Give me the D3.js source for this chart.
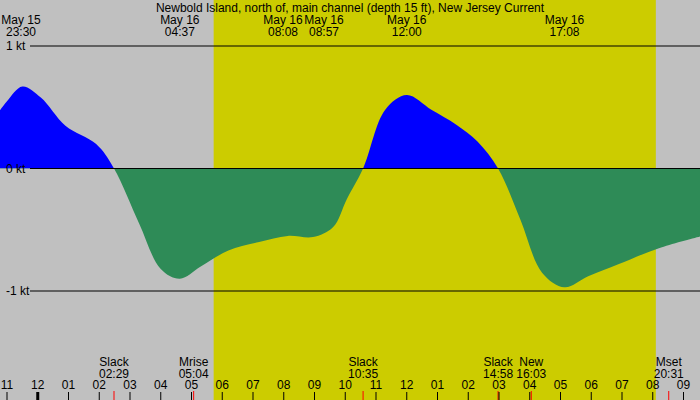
<!DOCTYPE html>
<html><head><meta charset="utf-8">
<script src="https://cdn.jsdelivr.net/npm/d3@7"></script>
<style>body{margin:0;background:#c0c0c0}text{font-family:"Liberation Sans",Arial,sans-serif;font-size:12px}</style>
</head><body><svg id="c" width="700" height="400"></svg>
<script>
// hours since May 15 23:00
var flowHours = [-0.3, 0, 0.5, 1.1, 1.9, 2.9, 3.48, 4.3, 5.0, 5.62, 6.3, 7.2, 8.2, 9.13, 9.95, 10.6, 11.05, 11.58, 12.3, 13.0, 13.8, 14.6, 15.3, 15.97, 16.7, 17.4, 18.13, 18.9, 19.9, 21.2, 22.6];
var flowKnots = [0.45, 0.55, 0.67, 0.58, 0.35, 0.2, 0, -0.45, -0.82, -0.9, -0.8, -0.67, -0.6, -0.55, -0.56, -0.48, -0.25, 0, 0.48, 0.6, 0.48, 0.36, 0.22, 0, -0.42, -0.85, -0.97, -0.88, -0.78, -0.65, -0.55];
var daylight = [6.72, 21.1];
var hourLabels = ["11","12","01","02","03","04","05","06","07","08","09","10","11","12","01","02","03","04","05","06","07","08","09"];
var topEvents = [
  {t: 0.5, d: "May 15", s: "23:30", x: 21},
  {t: 5.62, d: "May 16", s: "04:37"},
  {t: 9.13, d: "May 16", s: "08:08", x: 283},
  {t: 9.95, d: "May 16", s: "08:57", x: 324},
  {t: 13.0, d: "May 16", s: "12:00"},
  {t: 18.13, d: "May 16", s: "17:08"}
];
var bottomEvents = [
  {t: 3.48, a: "Slack", b: "02:29"},
  {t: 6.07, a: "Mrise", b: "05:04"},
  {t: 11.58, a: "Slack", b: "10:35"},
  {t: 15.97, a: "Slack", b: "14:58"},
  {t: 17.05, a: "New", b: "16:03"},
  {t: 21.52, a: "Mset", b: "20:31"}
];
var yTicks = [1, 0, -1];

var svg = d3.select("#c");
var x = d3.scaleLinear().domain([0, 22]).range([7, 683.5]);
var y = d3.scaleLinear().domain([1, -1]).range([46, 291]);

svg.append("rect").attr("x", x(daylight[0])).attr("y", 0).attr("width", x(daylight[1]) - x(daylight[0])).attr("height", 400).attr("fill", "#cccc00");

var pts = flowHours.map(function (h, i) { return [h, flowKnots[i]]; });
var area = d3.area().x(function (d) { return x(d[0]); }).y0(y(0)).y1(function (d) { return y(d[1]); }).curve(d3.curveCatmullRom);
var defs = svg.append("defs");
defs.append("clipPath").attr("id", "up").append("rect").attr("x", 0).attr("y", 0).attr("width", 700).attr("height", y(0));
defs.append("clipPath").attr("id", "dn").append("rect").attr("x", 0).attr("y", y(0)).attr("width", 700).attr("height", 400);
svg.append("path").datum(pts).attr("d", area).attr("fill", "#0000ff").attr("clip-path", "url(#up)");
svg.append("path").datum(pts).attr("d", area).attr("fill", "#2e8b57").attr("clip-path", "url(#dn)");

yTicks.forEach(function (v) {
  svg.append("line").attr("x1", 30).attr("x2", 700).attr("y1", y(v)).attr("y2", y(v)).attr("stroke", "#000");
  svg.append("text").attr("x", 6).attr("y", y(v) + 4).text(v + " kt");
});

svg.append("text").attr("x", 350).attr("y", 12).attr("text-anchor", "middle").text("Newbold Island, north of, main channel (depth 15 ft), New Jersey Current");

topEvents.forEach(function (e) {
  var cx = e.x || x(e.t);
  svg.append("text").attr("x", cx).attr("y", 24).attr("text-anchor", "middle").text(e.d);
  svg.append("text").attr("x", cx).attr("y", 36).attr("text-anchor", "middle").text(e.s);
});

bottomEvents.forEach(function (e) {
  svg.append("text").attr("x", x(e.t)).attr("y", 366).attr("text-anchor", "middle").text(e.a);
  svg.append("text").attr("x", x(e.t)).attr("y", 378).attr("text-anchor", "middle").text(e.b);
  svg.append("line").attr("x1", x(e.t)).attr("x2", x(e.t)).attr("y1", 391).attr("y2", 400).attr("stroke", "#ff0000");
});

hourLabels.forEach(function (l, i) {
  svg.append("text").attr("x", x(i)).attr("y", 389).attr("text-anchor", "middle").text(l);
  svg.append("line").attr("x1", x(i)).attr("x2", x(i)).attr("y1", 392).attr("y2", 400).attr("stroke", "#000").attr("stroke-width", i === 1 ? 3 : 1);
});
</script></body></html>
